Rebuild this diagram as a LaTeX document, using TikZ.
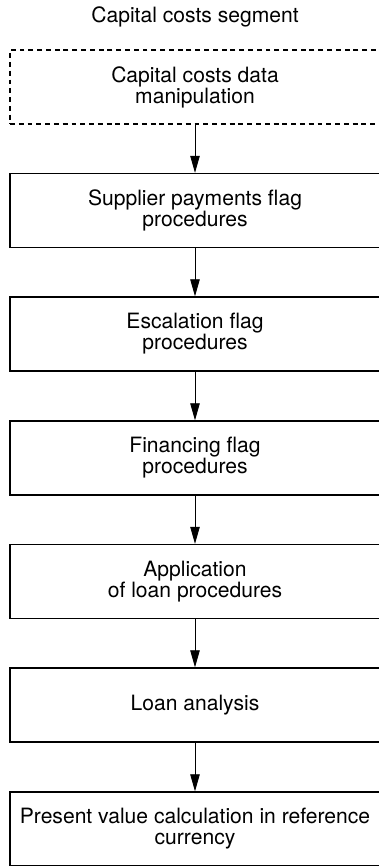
\documentclass[tikz,border=0pt]{standalone}
\usepackage{fontspec}
\setmainfont{TeX Gyre Heros}
\usetikzlibrary{arrows.meta}

\begin{document}
\begin{tikzpicture}[font=\fontsize{12}{12}\selectfont,
  stage/.style={draw, line width=0.8pt, minimum width=7.4cm, minimum height=1.48cm,
    inner sep=0pt, align=center},
  flow/.style={line width=0.5pt, -{Triangle[length=0.34cm,width=0.19cm]}}]
  \useasboundingbox (0,0) rectangle (7.56,-17.32);
  % --- heading ---
  \node (title) at (3.9,-0.34) {Capital costs segment};
  % --- stages, top to bottom ---
  \node[stage, dashed, dash pattern=on 2.8pt off 2.2pt] (manip) at (3.9,-1.74)
    {Capital costs data\\manipulation};
  \node[stage] (supplier) at (3.9,-4.21)  {Supplier payments flag\\procedures};
  \node[stage] (escal)    at (3.9,-6.68)  {Escalation flag\\procedures};
  \node[stage] (financ)   at (3.9,-9.16)  {Financing flag\\procedures};
  \node[stage] (applic)   at (3.9,-11.63) {Application\\of loan procedures};
  \node[stage] (loan)     at (3.9,-14.10) {Loan analysis};
  \node[stage] (present)  at (3.9,-16.58) {Present value calculation in reference\\currency};
  % --- connectors ---
  \draw[flow] (manip)    -- (supplier);
  \draw[flow] (supplier) -- (escal);
  \draw[flow] (escal)    -- (financ);
  \draw[flow] (financ)   -- (applic);
  \draw[flow] (applic)   -- (loan);
  \draw[flow] (loan)     -- (present);
\end{tikzpicture}
\end{document}
